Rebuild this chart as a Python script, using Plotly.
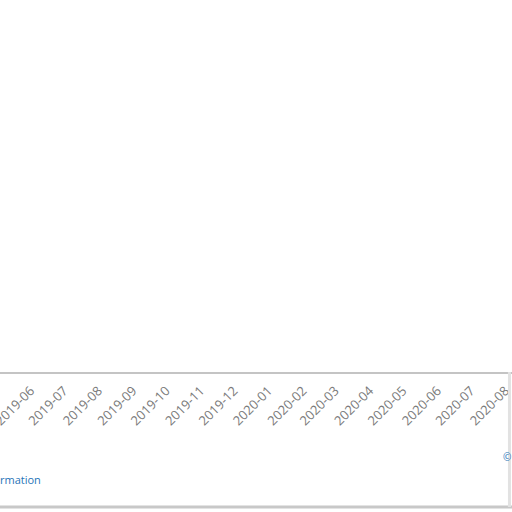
import plotly.graph_objects as go

months = ["2019-06-01", "2019-07-01", "2019-08-01", "2019-09-01", "2019-10-01",
          "2019-11-01", "2019-12-01", "2020-01-01", "2020-02-01", "2020-03-01",
          "2020-04-01", "2020-05-01", "2020-06-01", "2020-07-01", "2020-08-01"]
tick_labels = ["2019-06", "2019-07", "2019-08", "2019-09", "2019-10", "2019-11",
               "2019-12", "2020-01", "2020-02", "2020-03", "2020-04", "2020-05",
               "2020-06", "2020-07", "2020-08"]
values = [None, None, None, None, None, None, None, None, None, None,
          None, None, None, None, None]

fig = go.Figure()
fig.add_trace(go.Scatter(x=months, y=values, mode="lines",
                         line=dict(color="#0770cf", width=2), showlegend=False,
                         hoverinfo="skip"))

fig.update_layout(
    width=512, height=512,
    margin=dict(l=0, r=0, t=0, b=140, autoexpand=False),
    paper_bgcolor="white", plot_bgcolor="white",
    font=dict(family="Open Sans", color="#7a7a7a"),
    xaxis=dict(
        type="date",
        range=["2019-05-04 12:00", "2020-08-07"],
        tickvals=months, ticktext=tick_labels,
        tickangle=-45, tickfont=dict(size=13, color="#7a7a7a"),
        ticklabeloverflow="allow", ticklabelstandoff=4,
        showgrid=False, zeroline=False, automargin=False,
        showline=True, linecolor="#c4c4c4", linewidth=2,
        ticks="", fixedrange=True,
    ),
    yaxis=dict(visible=False, range=[0, 1], fixedrange=True, automargin=False),
    shapes=[
        dict(type="line", xref="paper", yref="paper", x0=0, x1=1,
             y0=-135 / 372, y1=-135 / 372,
             line=dict(color="#c8c8c8", width=3)),
        dict(type="line", xref="paper", yref="paper", x0=0.995, x1=0.995,
             y0=-135 / 372, y1=0,
             line=dict(color="#e2e2e2", width=3)),
    ],
    annotations=[
        dict(text="rmation", xref="paper", yref="paper",
             x=-2 / 512, y=-107 / 372, xanchor="left", yanchor="middle",
             showarrow=False, font=dict(size=11, color="#1f74b8")),
        dict(text="©", xref="paper", yref="paper",
             x=501 / 512, y=-85 / 372, xanchor="left", yanchor="middle",
             showarrow=False, font=dict(size=10, color="#1f74b8")),
    ],
)

fig.write_html("out.html", config={"displayModeBar": False},
               post_script="document.body.style.margin='0';")
